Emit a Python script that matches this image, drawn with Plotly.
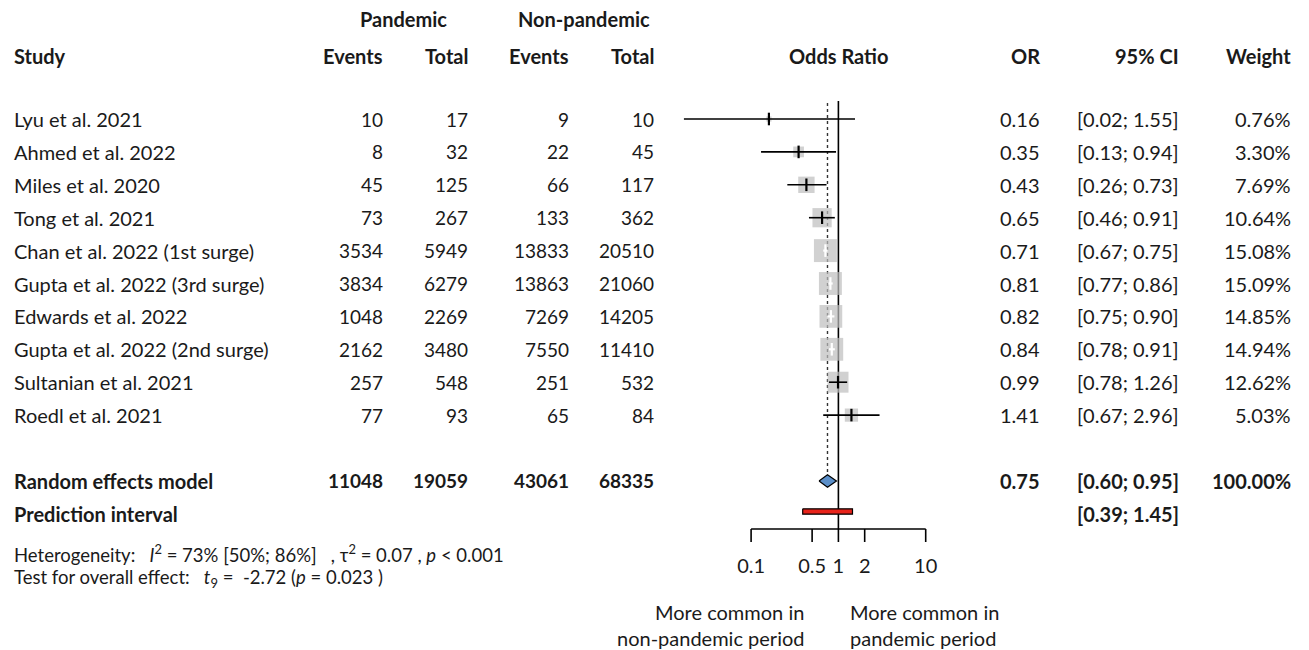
import math
import plotly.graph_objects as go

# ---------------- data ----------------
studies = ["Lyu et al. 2021", "Ahmed et al. 2022", "Miles et al. 2020", "Tong et al. 2021",
           "Chan et al. 2022 (1st surge)", "Gupta et al. 2022 (3rd surge)", "Edwards et al. 2022",
           "Gupta et al. 2022 (2nd surge)", "Sultanian et al. 2021", "Roedl et al. 2021"]
pan_events = [10, 8, 45, 73, 3534, 3834, 1048, 2162, 257, 77]
pan_total = [17, 32, 125, 267, 5949, 6279, 2269, 3480, 548, 93]
np_events = [9, 22, 66, 133, 13833, 13863, 7269, 7550, 251, 65]
np_total = [10, 45, 117, 362, 20510, 21060, 14205, 11410, 532, 84]
or_vals = [0.16, 0.35, 0.43, 0.65, 0.71, 0.81, 0.82, 0.84, 0.99, 1.41]
ci_lo = [0.017, 0.13, 0.26, 0.46, 0.67, 0.77, 0.75, 0.78, 0.78, 0.67]
ci_hi = [1.55, 0.94, 0.73, 0.91, 0.75, 0.86, 0.90, 0.91, 1.26, 2.96]
weights = [0.76, 3.30, 7.69, 10.64, 15.08, 15.09, 14.85, 14.94, 12.62, 5.03]

pooled_label = "Random effects model"
pooled_counts = [11048, 19059, 43061, 68335]
pooled_or = 0.75
pooled_lo = 0.60
pooled_hi = 0.95
pooled_weight = "100.00%"
pred_label = "Prediction interval"
pred_lo = 0.39
pred_hi = 1.45

tick_vals = [0.1, 0.5, 1, 2, 10]
tick_text = ["0.1", "0.5", "1", "2", "10"]

# ---------------- geometry ----------------
W, H = 1309, 650
PX1 = 838.4       # pixel of OR = 1
DEC = 87.3        # pixels per decade
ROW0 = 119.0      # pixel of row 1
PITCH = 32.9      # pixels per row


def row(px):
    return 1 + (px - ROW0) / PITCH


def pxx(px):
    return px / W


rows = list(range(1, len(studies) + 1))
pooled_row = len(studies) + 2
pred_row = pooled_row + 1
axis_row = row(529)
tick_row = row(542)

FONT = "Lato"
FS = 20
FS_NUM = 19
FS_SMALL = 18.5
TXT = "#1a1a1a"

fig = go.Figure()

# reference lines
fig.add_trace(go.Scatter(x=[1, 1], y=[row(101), axis_row], mode="lines",
                         line=dict(color="black", width=1.6), hoverinfo="skip"))
fig.add_trace(go.Scatter(x=[pooled_or, pooled_or], y=[row(103), pooled_row - 0.19], mode="lines",
                         line=dict(color="#333333", width=1.4, dash="dot"), hoverinfo="skip"))

# boxes
box_sizes = [5.9 * math.sqrt(w) for w in weights]
fig.add_trace(go.Scatter(x=or_vals, y=rows, mode="markers",
                         marker=dict(symbol="square", size=box_sizes, color="#bdbdbd",
                                     line=dict(width=0)), hoverinfo="skip"))

# CI lines and estimate ticks
tick_cols = []
for i in range(len(studies)):
    ci_px = (math.log10(ci_hi[i]) - math.log10(ci_lo[i])) * DEC
    inside = ci_px < 0.6 * box_sizes[i]
    col = "white" if inside else "black"
    tick_cols.append(col)
    fig.add_trace(go.Scatter(x=[ci_lo[i], ci_hi[i]], y=[rows[i], rows[i]], mode="lines",
                             line=dict(color=col, width=2.2 if inside else 1.6), hoverinfo="skip"))
fig.add_trace(go.Scatter(x=or_vals, y=rows, mode="markers",
                         marker=dict(symbol="line-ns", size=9, color=tick_cols,
                                     line=dict(color=tick_cols, width=2.2)), hoverinfo="skip"))

# diamond
dh = 0.19
fig.add_trace(go.Scatter(x=[pooled_lo, pooled_or, pooled_hi, pooled_or, pooled_lo],
                         y=[pooled_row, pooled_row - dh, pooled_row, pooled_row + dh, pooled_row],
                         mode="lines", fill="toself", fillcolor="#5b8fc9",
                         line=dict(color="black", width=1.2), hoverinfo="skip"))

# prediction interval
ph = 0.08
pc = pred_row - 0.07
fig.add_trace(go.Scatter(x=[pred_lo, pred_hi, pred_hi, pred_lo, pred_lo],
                         y=[pc - ph, pc - ph, pc + ph, pc + ph, pc - ph],
                         mode="lines", fill="toself", fillcolor="#e8231a",
                         line=dict(color="black", width=1.2), hoverinfo="skip"))

# x axis line and ticks
ax_x = [tick_vals[0], tick_vals[-1]]
ax_y = [axis_row, axis_row]
for v in tick_vals:
    ax_x += [None, v, v]
    ax_y += [None, axis_row, tick_row]
fig.add_trace(go.Scatter(x=ax_x, y=ax_y, mode="lines", line=dict(color="black", width=1.6),
                         hoverinfo="skip"))
fig.add_trace(go.Scatter(x=tick_vals, y=[row(568)] * len(tick_vals), mode="text", text=tick_text,
                         textposition="middle center",
                         textfont=dict(family=FONT, size=FS, color=TXT), hoverinfo="skip"))

# ---------------- text columns ----------------
ann = []


def add(text, px, y, anchor="right", bold=False, size=FS):
    t = f"<b>{text}</b>" if bold else text
    ann.append(dict(text=t, x=pxx(px), xref="paper", y=y, yref="y", xanchor=anchor,
                    yanchor="middle", showarrow=False,
                    font=dict(family=FONT, size=size, color=TXT)))


C_EV, C_TOT, C_NEV, C_NTOT = 385, 470, 571, 656
C_OR, C_CI, C_W = 1042, 1181, 1293

# header
add("Pandemic", 403, row(19), "center", True)
add("Non-pandemic", 584, row(19), "center", True)
hy = row(56)
add("Study", 12, hy, "left", True)
add("Events", C_EV, hy, "right", True)
add("Total", C_TOT, hy, "right", True)
add("Events", C_NEV, hy, "right", True)
add("Total", C_NTOT, hy, "right", True)
add("Odds Ratio", 838, hy, "center", True)
add("OR", C_OR, hy, "right", True)
add("95% CI", C_CI, hy, "right", True)
add("Weight", C_W, hy, "right", True)

for i, s in enumerate(studies):
    r = rows[i]
    add(s, 12, r, "left")
    add(str(pan_events[i]), C_EV, r, size=FS_NUM)
    add(str(pan_total[i]), C_TOT, r, size=FS_NUM)
    add(str(np_events[i]), C_NEV, r, size=FS_NUM)
    add(str(np_total[i]), C_NTOT, r, size=FS_NUM)
    add(f"{or_vals[i]:.2f}", C_OR, r)
    add(f"[{ci_lo[i]:.2f}; {ci_hi[i]:.2f}]", C_CI, r)
    add(f"{weights[i]:.2f}%", C_W, r)

add(pooled_label, 12, pooled_row, "left", True)
for c, v in zip([C_EV, C_TOT, C_NEV, C_NTOT], pooled_counts):
    add(str(v), c, pooled_row, "right", True, size=FS_NUM)
add(f"{pooled_or:.2f}", C_OR, pooled_row, "right", True)
add(f"[{pooled_lo:.2f}; {pooled_hi:.2f}]", C_CI, pooled_row, "right", True)
add(pooled_weight, C_W, pooled_row, "right", True)
add(pred_label, 12, pred_row, "left", True)
add(f"[{pred_lo:.2f}; {pred_hi:.2f}]", C_CI, pred_row, "right", True)

nb = "\u00a0"
add(f"Heterogeneity:{nb}{nb}{nb}<i>I</i><sup>2</sup> = 73% [50%; 86%]{nb}{nb}{nb}, τ<sup>2</sup> = 0.07 , <i>p</i> &lt; 0.001",
    12, row(553), "left", size=FS_SMALL)
add(f"Test for overall effect:{nb}{nb}{nb}<i>t</i><sub>9</sub> ={nb} -2.72 (<i>p</i> = 0.023 )",
    12, row(578), "left", size=FS_SMALL)

add("More common in", 806, row(612), "right")
add("non-pandemic period", 806, row(638), "right")
add("More common in", 848, row(612), "left")
add("pandemic period", 848, row(638), "left")

fig.update_layout(
    width=W, height=H, margin=dict(l=0, r=0, t=0, b=0),
    paper_bgcolor="white", plot_bgcolor="white", showlegend=False,
    xaxis=dict(type="log", range=[(0 - PX1) / DEC, (W - PX1) / DEC], visible=False, fixedrange=True),
    yaxis=dict(range=[row(H), row(0)], visible=False, fixedrange=True),
    annotations=ann,
)

fig.write_html("out.html", config={"displayModeBar": False},
               post_script="document.body.style.margin='0';document.body.style.overflow='hidden';")
